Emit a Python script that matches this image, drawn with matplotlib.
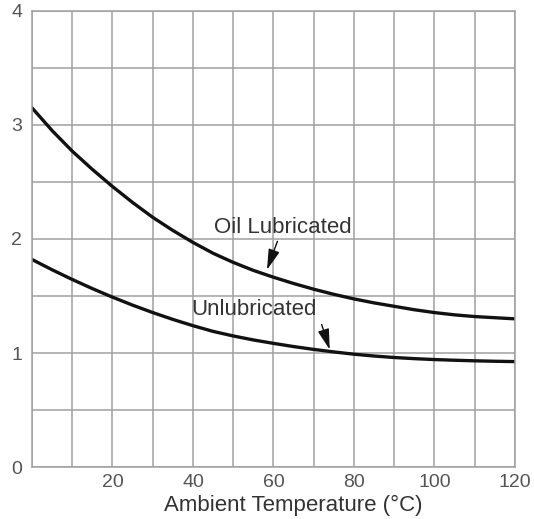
import matplotlib.pyplot as plt

temps = [0, 5, 10, 15, 20, 25, 30, 35, 40, 45, 50, 55, 60,
         65, 70, 75, 80, 85, 90, 95, 100, 105, 110, 115, 120]
oil_lubricated = [3.15, 2.95, 2.77, 2.61, 2.46, 2.32, 2.19, 2.075, 1.97, 1.875, 1.795, 1.725, 1.665,
                  1.61, 1.56, 1.515, 1.475, 1.44, 1.41, 1.38, 1.355, 1.335, 1.32, 1.31, 1.30]
unlubricated = [1.82, 1.73, 1.645, 1.565, 1.49, 1.42, 1.355, 1.295, 1.24, 1.19, 1.15, 1.115, 1.085,
                1.057, 1.032, 1.01, 0.99, 0.974, 0.961, 0.951, 0.943, 0.937, 0.932, 0.928, 0.925]

x_ticks = [20, 40, 60, 80, 100, 120]
y_ticks = [0, 1, 2, 3, 4]

plt.rcParams['font.family'] = ['Liberation Sans', 'DejaVu Sans']

fig = plt.figure(figsize=(5.34, 5.19), dpi=100)
ax = fig.add_axes([0.060, 0.100, 0.904, 0.879])

ax.plot(temps, oil_lubricated, color='#111111', linewidth=2.4, solid_capstyle='round')
ax.plot(temps, unlubricated, color='#111111', linewidth=2.4, solid_capstyle='round')

ax.set_xlim(0, 120)
ax.set_ylim(0, 4)
xgrid = list(range(0, 121, 10))
ax.set_xticks(xgrid)
ax.set_xticklabels([str(t) if t in x_ticks else '' for t in xgrid])
ygrid = [i * 0.5 for i in range(9)]
ax.set_yticks(ygrid)
ax.set_yticklabels([str(int(v)) if v in y_ticks else '' for v in ygrid])
ax.grid(True, color='#a0a0a0', linewidth=1.1)
ax.set_axisbelow(True)
for s in ax.spines.values():
    s.set_color('#a0a0a0')
    s.set_linewidth(1.1)
ax.tick_params(axis='both', length=0, labelsize=14, labelcolor='#555555')
ax.tick_params(axis='x', pad=5)
ax.tick_params(axis='y', pad=7)

ax.set_xlabel('Ambient Temperature (°C)', fontsize=16, color='#333333', labelpad=3, x=0.542)

ax.text(62.4, 2.10, 'Oil Lubricated', ha='center', va='center', fontsize=16, color='#333333')
ax.text(55.2, 1.38, 'Unlubricated', ha='center', va='center', fontsize=16, color='#333333')

arrow = dict(arrowstyle='-|>,head_length=0.9,head_width=0.25', color='#111111', lw=1.0,
             mutation_scale=14, shrinkA=0, shrinkB=0)
ax.annotate('', xy=(58.4, 1.73), xytext=(61.0, 1.98), arrowprops=arrow)
ax.annotate('', xy=(74.0, 1.03), xytext=(72.0, 1.25), arrowprops=arrow)

fig.savefig('out.png', dpi=100, facecolor='white')
